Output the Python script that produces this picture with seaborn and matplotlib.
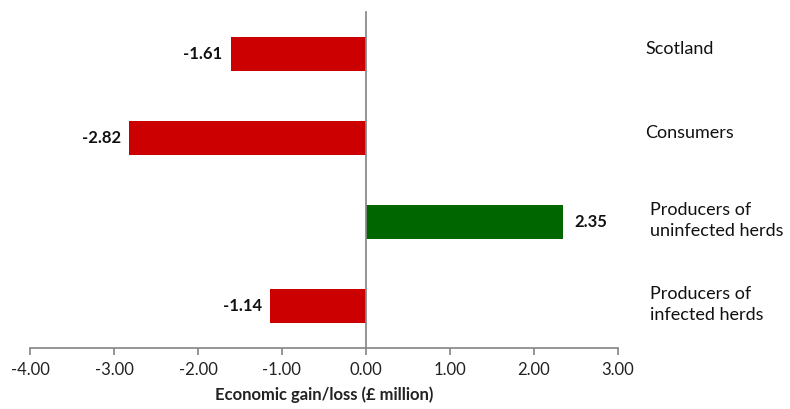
import matplotlib
matplotlib.use("Agg")
import matplotlib.pyplot as plt
import seaborn as sns
import pandas as pd

categories = ["Scotland", "Consumers", "Producers of\nuninfected herds", "Producers of\ninfected herds"]
values = [-1.61, -2.82, 2.35, -1.14]
value_labels = ["-1.61", "-2.82", "2.35", "-1.14"]
tick_values = [-4, -3, -2, -1, 0, 1, 2, 3]
tick_labels = ["-4.00", "-3.00", "-2.00", "-1.00", "0.00", "1.00", "2.00", "3.00"]

sns.set_theme(style="white")
plt.rcParams['font.family'] = ['Lato', 'DejaVu Sans']

df = pd.DataFrame({"cat": categories, "val": values})
df["sign"] = ["neg" if v < 0 else "pos" for v in values]

fig = plt.figure(figsize=(7.9, 4.09), dpi=100)
ax = fig.add_axes([0.038, 0.149, 0.744, 0.822])

sns.barplot(data=df, x="val", y="cat", hue="sign", order=categories,
            palette={"neg": "#CC0000", "pos": "#006600"}, width=0.4,
            saturation=1, linewidth=0, dodge=False, legend=False, ax=ax, orient="h")

ax.set_xlim(-4, 3)
ax.set_ylim(3.5, -0.5)
ax.set_xticks(tick_values)
ax.set_xticklabels(tick_labels, fontsize=12, color="#222222")
ax.set_yticks([])
ax.set_ylabel("")
ax.set_xlabel("Economic gain/loss (£ million)", fontsize=12, fontweight="bold",
              color="#222222", labelpad=6)

for s in ["top", "right"]:
    ax.spines[s].set_visible(False)
ax.spines["left"].set_position(("data", 0))
ax.spines["left"].set_color("#888888")
ax.spines["bottom"].set_color("#888888")
ax.tick_params(axis="x", bottom=True, direction="out", length=5, color="#888888", pad=5)

for i, (v, lab) in enumerate(zip(values, value_labels)):
    if v < 0:
        ax.text(v - 0.1, i, lab, ha="right", va="center", fontsize=12,
                fontweight="bold", color="#111111")
    else:
        ax.text(v + 0.13, i, lab, ha="left", va="center", fontsize=12,
                fontweight="bold", color="#111111")

for i, c in enumerate(categories):
    x = 3.33 if "\n" not in c else 3.38
    dy = -0.06 if "\n" not in c else -0.02
    ax.text(x, i + dy, c, ha="left", va="center", fontsize=13, color="#111111",
            clip_on=False, linespacing=1.4)

fig.savefig("out.png", dpi=100)
